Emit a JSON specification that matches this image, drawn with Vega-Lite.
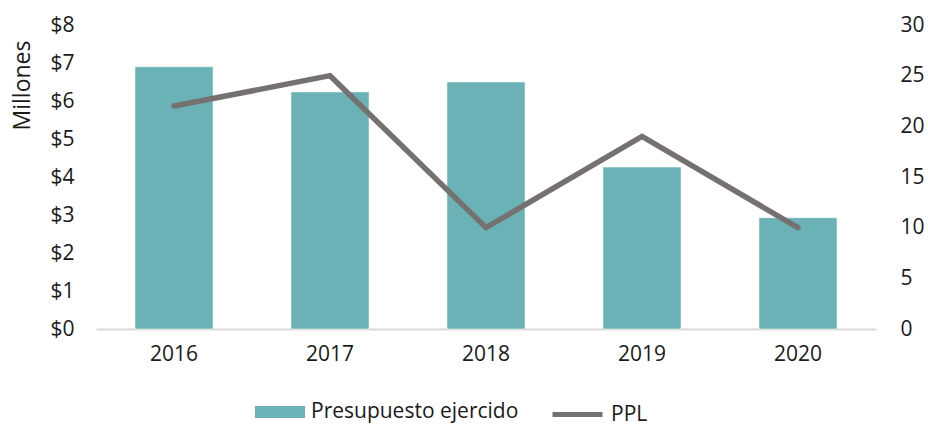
{
  "$schema": "https://vega.github.io/schema/vega-lite/v6.json",
  "width": 780,
  "height": 304,
  "autosize": {"type": "none"},
  "padding": {"left": 96, "top": 25, "right": 52, "bottom": 97},
  "background": "white",
  "config": {
    "view": {"stroke": null},
    "font": "Open Sans",
    "axis": {"labelFont": "Open Sans", "titleFont": "Open Sans", "labelColor": "#1a1a1a", "titleColor": "#1a1a1a", "grid": false, "ticks": false, "labelOverlap": false},
    "legend": {"labelFont": "Open Sans", "labelColor": "#1a1a1a", "labelFontSize": 21, "labelLimit": 400, "padding": 0}
  },
  "data": {
    "values": [
      {"anio": "2016", "presupuesto": 6.9, "ppl": 22, "s1": "Presupuesto ejercido", "s2": "PPL"},
      {"anio": "2017", "presupuesto": 6.24, "ppl": 25, "s1": "Presupuesto ejercido", "s2": "PPL"},
      {"anio": "2018", "presupuesto": 6.5, "ppl": 10, "s1": "Presupuesto ejercido", "s2": "PPL"},
      {"anio": "2019", "presupuesto": 4.26, "ppl": 19, "s1": "Presupuesto ejercido", "s2": "PPL"},
      {"anio": "2020", "presupuesto": 2.93, "ppl": 10, "s1": "Presupuesto ejercido", "s2": "PPL"}
    ]
  },
  "encoding": {
    "x": {
      "field": "anio", "type": "ordinal",
      "scale": {"paddingInner": 0.5, "paddingOuter": 0.25},
      "axis": {"title": null, "labelAngle": 0, "labelFontSize": 21, "labelPadding": 14, "domainColor": "#d9d9d9", "domainWidth": 2}
    }
  },
  "layer": [
    {
      "mark": {"type": "bar", "stroke": "#ffffff", "strokeWidth": 0.5},
      "encoding": {
        "y": {
          "field": "presupuesto", "type": "quantitative",
          "scale": {"domain": [0, 8], "nice": false},
          "axis": {"title": "Millones", "format": "$.0f", "values": [0,1,2,3,4,5,6,7,8], "domain": false, "labelFontSize": 21, "labelPadding": 22, "titleFontSize": 23, "titleFontWeight": "normal", "titleAngle": -90, "titleX": -74, "titleY": 60, "titleAlign": "center", "titleBaseline": "middle"}
        },
        "fill": {
          "field": "s1", "type": "nominal",
          "scale": {"range": ["#6AB2B5"]},
          "legend": {"title": null, "orient": "none", "legendX": 159, "legendY": 362, "symbolType": "M-1,-0.24H1V0.24H-1Z", "symbolSize": 2500, "symbolStrokeWidth": 0, "labelOffset": 6}
        }
      }
    },
    {
      "mark": {"type": "line", "strokeWidth": 5.5, "strokeCap": "round", "strokeJoin": "miter"},
      "encoding": {
        "y": {
          "field": "ppl", "type": "quantitative",
          "scale": {"domain": [0, 30], "nice": false},
          "axis": {"title": null, "orient": "right", "values": [0,5,10,15,20,25,30], "domain": false, "labelFontSize": 21, "labelPadding": 24}
        },
        "stroke": {
          "field": "s2", "type": "nominal",
          "scale": {"range": ["#767171"]},
          "legend": {"title": null, "orient": "none", "legendX": 454, "legendY": 362, "symbolType": "stroke", "symbolSize": 2500, "symbolStrokeWidth": 5, "labelOffset": 6}
        }
      }
    }
  ],
  "resolve": {"scale": {"y": "independent"}}
}
